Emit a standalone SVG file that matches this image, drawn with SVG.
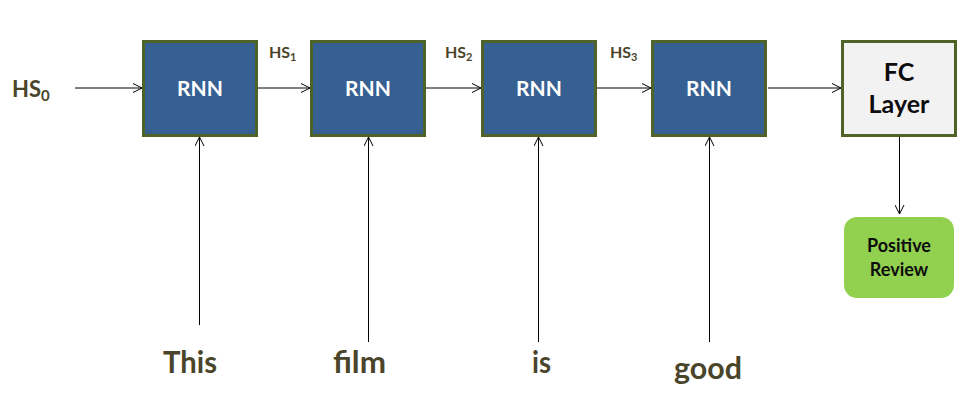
<svg xmlns="http://www.w3.org/2000/svg" width="976" height="403" viewBox="0 0 976 403">
<style>
.rnn{fill:#376092;stroke:#4F6228;stroke-width:3}
.fc{fill:#F2F2F2;stroke:#4F6228;stroke-width:3}
.pos{fill:#92D050}
.lbl{font-family:Lato,"Liberation Sans",sans-serif;font-weight:bold}
.w{fill:#FFFFFF;font-size:21px}
.hs{fill:#4A452A}
.word{fill:#4A452A;font-size:31px}
.conn{stroke:#000;stroke-width:1;fill:none}
</style>
<defs>
<marker id="arr" viewBox="0 0 10 10" refX="10" refY="5" markerWidth="10" markerHeight="10" markerUnits="userSpaceOnUse" orient="auto">
<path d="M1,0.5 L10,5 L1,9.5" fill="none" stroke="#000" stroke-width="1"/>
</marker>
</defs>
<rect width="976" height="403" fill="#FFFFFF"/>
<g id="connectors">
<line class="conn" x1="75" y1="88" x2="142" y2="88" marker-end="url(#arr)"/>
<line class="conn" x1="258" y1="88" x2="310" y2="88" marker-end="url(#arr)"/>
<line class="conn" x1="426" y1="88" x2="481" y2="88" marker-end="url(#arr)"/>
<line class="conn" x1="597" y1="88" x2="651" y2="88" marker-end="url(#arr)"/>
<line class="conn" x1="768" y1="88" x2="841" y2="88" marker-end="url(#arr)"/>
<line class="conn" x1="199.5" y1="325" x2="199.5" y2="137" marker-end="url(#arr)"/>
<line class="conn" x1="368.5" y1="342" x2="368.5" y2="137" marker-end="url(#arr)"/>
<line class="conn" x1="538.5" y1="342" x2="538.5" y2="137" marker-end="url(#arr)"/>
<line class="conn" x1="709.5" y1="342" x2="709.5" y2="137" marker-end="url(#arr)"/>
<line class="conn" x1="899.5" y1="137" x2="899.5" y2="214" marker-end="url(#arr)"/>
</g>
<g id="hs0"><text class="lbl hs" x="12" y="97" font-size="22">HS<tspan font-size="15" dy="4">0</tspan></text></g>
<g id="hs1"><text class="lbl hs" x="269" y="58" font-size="16">HS<tspan font-size="11" dy="3">1</tspan></text></g>
<g id="hs2"><text class="lbl hs" x="445" y="58" font-size="16">HS<tspan font-size="11" dy="3">2</tspan></text></g>
<g id="hs3"><text class="lbl hs" x="610" y="58" font-size="16">HS<tspan font-size="11" dy="3">3</tspan></text></g>
<g id="rnn1"><rect class="rnn" x="143.5" y="41.5" width="113" height="94"/><text class="lbl w" x="200" y="96" text-anchor="middle">RNN</text></g>
<g id="rnn2"><rect class="rnn" x="311.5" y="41.5" width="113" height="94"/><text class="lbl w" x="368" y="96" text-anchor="middle">RNN</text></g>
<g id="rnn3"><rect class="rnn" x="482.5" y="41.5" width="113" height="94"/><text class="lbl w" x="539" y="96" text-anchor="middle">RNN</text></g>
<g id="rnn4"><rect class="rnn" x="652.5" y="41.5" width="113" height="94"/><text class="lbl w" x="709" y="96" text-anchor="middle">RNN</text></g>
<g id="fc"><rect class="fc" x="842.5" y="41.5" width="113" height="94"/><text class="lbl" x="899" y="81" font-size="25" fill="#0D0D0D" text-anchor="middle">FC</text><text class="lbl" x="899" y="113" font-size="25" fill="#0D0D0D" text-anchor="middle">Layer</text></g>
<g id="positive"><rect class="pos" x="844" y="217" width="110" height="81" rx="13"/><text class="lbl" x="899" y="252" font-size="18" fill="#0D0D0D" text-anchor="middle">Positive</text><text class="lbl" x="899" y="276" font-size="18" fill="#0D0D0D" text-anchor="middle">Review</text></g>
<g id="w-this"><text class="lbl word" x="163" y="373" textLength="54" lengthAdjust="spacingAndGlyphs">This</text></g>
<g id="w-film"><text class="lbl word" x="333" y="373" textLength="53" lengthAdjust="spacingAndGlyphs">film</text></g>
<g id="w-is"><text class="lbl word" x="532" y="373" textLength="19" lengthAdjust="spacingAndGlyphs">is</text></g>
<g id="w-good"><text class="lbl word" x="674" y="379" textLength="68" lengthAdjust="spacingAndGlyphs">good</text></g>
</svg>
